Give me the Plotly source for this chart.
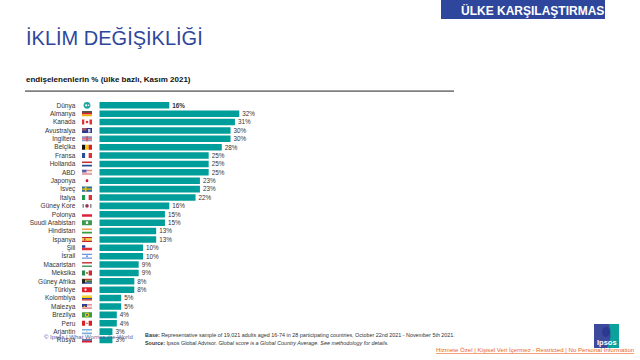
import plotly.graph_objects as go

W, H = 640, 360
countries = ["Dünya","Almanya","Kanada","Avustralya","İngiltere","Belçika","Fransa","Hollanda","ABD","Japonya","İsveç","İtalya","Güney Kore","Polonya","Suudi Arabistan","Hindistan","İspanya","Şili","İsrail","Macaristan","Meksika","Güney Afrika","Türkiye","Kolombiya","Malezya","Brezilya","Peru","Arjantin","Rusya"]
values = [16,32,31,30,30,28,25,25,25,23,23,22,16,15,15,13,13,10,10,9,9,8,8,5,5,4,4,3,3]
value_labels = [f"<b>{v}%</b>" if i == 0 else f"{v}%" for i, v in enumerate(values)]
# flag: orientation + stripe colours
flags = [
 ("h",["#ffffff"]),("h",["#1c1c1c","#d8232a","#f0b400"]),("v",["#e0303a","#ffffff","#ffffff","#e0303a"]),
 ("h",["#2c3a8a"]),("h",["#8f95c4","#f0e4ea","#8f95c4"]),("v",["#111111","#f5c800","#d8232a"]),
 ("v",["#2b4b9b","#ffffff","#e0303a"]),("h",["#c0303a","#ffffff","#2b4b9b"]),("h",["#e08a90","#f6e6e6","#e08a90"]),
 ("h",["#ffffff"]),("h",["#2a6ca8"]),("v",["#1f9a50","#ffffff","#e0303a"]),
 ("h",["#ffffff"]),("h",["#ffffff","#e0203a"]),("h",["#3f9a50"]),
 ("h",["#f2a04a","#ffffff","#3c9a40"]),("h",["#c8202a","#f2c020","#f2c020","#c8202a"]),("h",["#ffffff","#e0303a"]),
 ("h",["#6a94e0","#ffffff","#ffffff","#6a94e0"]),("h",["#c84048","#ffffff","#4a9a60"]),("v",["#2a8a50","#ffffff","#d02a30"]),
 ("h",["#c8402a","#2a7a40","#2a4a9a"]),("h",["#e0202a"]),("h",["#f5cc10","#f5cc10","#2a4a9a","#d8202a"]),
 ("h",["#e89098","#f6e6e6","#e89098"]),("h",["#3c9a40"]),("v",["#d8202a","#ffffff","#d8202a"]),
 ("h",["#7ab0e0","#ffffff","#7ab0e0"]),("h",["#ffffff","#2a4a9a","#d8202a"]),
]

n = len(countries)
row_top, row_bot = 101.1, 344.2
bar_left, px_per_unit = 99.3, 4.375
x_right = 500

fig = go.Figure(go.Bar(
    x=values, y=countries, orientation="h", width=0.78,
    marker=dict(color="#009e9a", line=dict(width=0)),
    text=value_labels, textposition="outside", cliponaxis=False,
    textfont=dict(family="Liberation Sans", size=6.8, color="#333333"),
    hoverinfo="skip",
))

def px(x): return x / W
def py(y): return 1 - y / H
shapes, ann = [], []

def rect(x0, y0, x1, y1, color):
    shapes.append(dict(type="rect", xref="paper", yref="paper", x0=px(x0), x1=px(x1), y0=py(y0), y1=py(y1), fillcolor=color, line=dict(width=0), layer="above"))

def text(x, y, s, size, color="#333333", anchor="left", family="Liberation Sans"):
    ann.append(dict(xref="paper", yref="paper", x=px(x), y=py(y), text=s, showarrow=False, xanchor=anchor, yanchor="middle", font=dict(family=family, size=size, color=color), align="left", borderpad=0))

# flags
fx0, fx1 = 82.0, 92.0
fh = 0.3
def frect(i, a, b, c, d, color):
    # a,b: fractions of flag width; c,d: fractions of flag height (from top)
    shapes.append(dict(type="rect", xref="paper", yref="y", x0=px(fx0 + (fx1 - fx0) * a), x1=px(fx0 + (fx1 - fx0) * b),
                       y0=i - fh + 2 * fh * c, y1=i - fh + 2 * fh * d, fillcolor=color, line=dict(width=0), layer="above"))
for i, (orient, cols) in enumerate(flags):
    k = len(cols)
    for j, c in enumerate(cols):
        if orient == "h":
            frect(i, 0, 1, j / k, (j + 1) / k, c)
        else:
            frect(i, j / k, (j + 1) / k, 0, 1, c)
def dot(i, color, r=1.5, xc=87.0):
    shapes.append(dict(type="circle", xref="paper", yref="y", x0=px(xc - r), x1=px(xc + r), y0=i - r / 8.38, y1=i + r / 8.38, fillcolor=color, line=dict(width=0), layer="above"))
dot(0, "#1fa6a0", 3.4); dot(0, "#ffffff", 1.1, 86.2); dot(0, "#ffffff", 0.7, 88.6)
dot(2, "#e0303a", 1.3)
frect(3, 0, 0.45, 0, 0.5, "#a0566e"); frect(3, 0.6, 0.85, 0.2, 0.9, "#c8cce8")
frect(4, 0, 1, 0.38, 0.62, "#d05060"); frect(4, 0.42, 0.58, 0, 1, "#d05060")
frect(8, 0, 0.45, 0, 0.55, "#5a64a8")
dot(9, "#d01030", 1.4)
frect(10, 0, 1, 0.38, 0.62, "#f2c500"); frect(10, 0.28, 0.45, 0, 1, "#f2c500")
dot(12, "#c83040", 1.8); dot(12, "#3050a0", 0.9); frect(12, 0.05, 0.2, 0.15, 0.85, "#888888"); frect(12, 0.8, 0.95, 0.15, 0.85, "#888888")
dot(14, "#ffffff", 1.3)
frect(16, 0.2, 0.35, 0.3, 0.7, "#b04030")
frect(17, 0, 0.33, 0, 0.5, "#2a3fa0")
dot(18, "#6a94e0", 1.0)
dot(20, "#8a6a30", 1.0)
frect(21, 0, 0.3, 0.1, 0.9, "#222222"); frect(21, 0.3, 0.45, 0.35, 0.65, "#f2c500")
dot(22, "#ffffff", 1.1, 85.5)
frect(24, 0, 0.5, 0, 0.6, "#2a3f9a"); dot(24, "#f2c500", 0.8, 84.5)
dot(25, "#f2d020", 2.2); dot(25, "#2a4a9a", 1.0)
dot(26, "#a05030", 0.8)
dot(27, "#e8c040", 0.6)

# header, title, rule
rect(441, 0, 605, 19, "#2e479c")
text(604.5, 10, "<b>ÜLKE KARŞILAŞTIRMAS</b>", 12, "#ffffff", "right")
text(25, 38, "İKLİM DEĞİŞİKLİĞİ", 20, "#2e479c")
text(25, 79, "<b>endişelenenlerin %</b> <b>(ülke bazlı, Kasım 2021)</b>", 8, "#111111")
rect(25, 90.3, 454, 92, "#808080")

# footer
text(43, 336.5, "© Ipsos | What Worries the World", 6, "#55609c")
text(144, 335, "<b>Base:</b> Representative sample of 19,021 adults aged 16-74 in 28 participating countries, October 22nd 2021 - November 5th 2021.", 5.4, "#333333")
text(144, 343, "<b>Source:</b> Ipsos Global Advisor. <i>Global score is a Global Country Average. See methodology for details.</i>", 5.4, "#333333")

# logo
rect(594, 324, 619, 348, "#3b4a9c")
shapes.append(dict(type="path", xref="paper", yref="paper", layer="above", fillcolor="#0aa29a", line=dict(width=0),
    path=f"M {px(609)} {py(324)} L {px(619)} {py(324)} L {px(619)} {py(348)} L {px(607)} {py(348)} Q {px(613)} {py(337)} {px(609)} {py(324)} Z"))
shapes.append(dict(type="circle", xref="paper", yref="paper", layer="above", fillcolor="#2b3a90", line=dict(width=0),
    x0=px(602), x1=px(610), y0=py(337), y1=py(327)))
text(606.5, 342, "<b>Ipsos</b>", 7.5, "#ffffff", "center")
text(435, 349.5, "<u>Hizmete Özel | Kişisel Veri İçermez - Restricted | No Personal Information</u>", 6.1, "#e8662a")

fig.update_layout(
    width=W, height=H, autosize=False, margin=dict(l=0, r=0, t=0, b=0),
    paper_bgcolor="#ffffff", plot_bgcolor="#ffffff", showlegend=False,
    shapes=shapes, annotations=ann,
    xaxis=dict(domain=[px(bar_left), px(x_right)], range=[0, (x_right - bar_left) / px_per_unit], visible=False, fixedrange=True),
    yaxis=dict(domain=[py(row_bot), py(row_top)], range=[n - 0.5, -0.5], type="category",
               categoryorder="array", categoryarray=countries, showgrid=False, zeroline=False, showline=False,
               ticks="", ticklabelstandoff=23, fixedrange=True,
               tickfont=dict(family="Liberation Sans", size=6.5, color="#333333")),
)
fig.write_html("out.html", config=dict(displayModeBar=False),
               post_script="document.body.style.margin='0';")
